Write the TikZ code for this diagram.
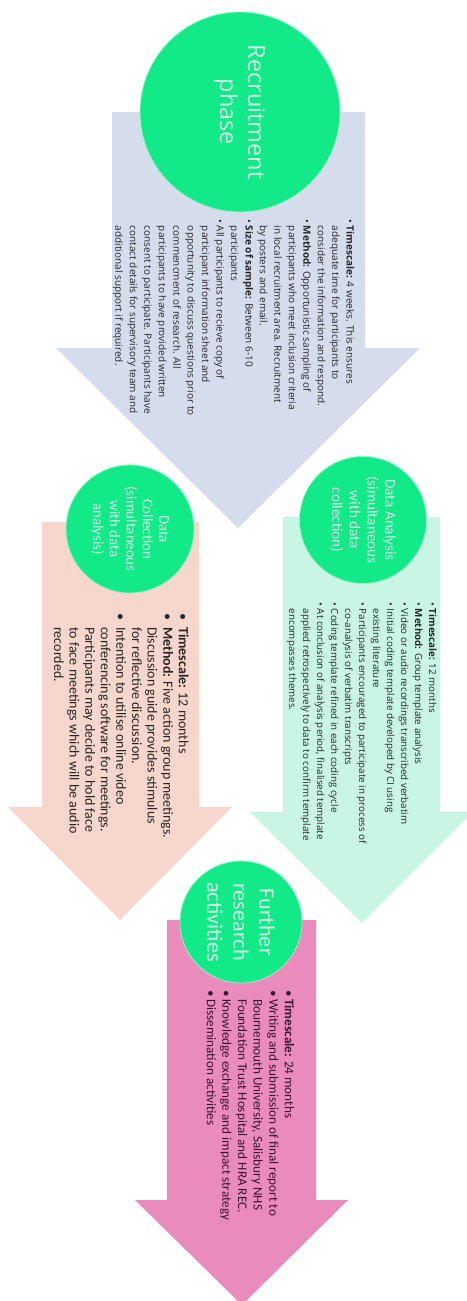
\documentclass[tikz,border=0pt]{standalone}
\usepackage{fontspec}
\setmainfont{Open Sans}
\newfontfamily\opens{Open Sans}
\newfontfamily\calib{Carlito}
\definecolor{recruitfill}{HTML}{D5DDEC}
\definecolor{collectfill}{HTML}{F7D6CC}
\definecolor{analysisfill}{HTML}{C9F6E4}
\definecolor{furtherfill}{HTML}{E98BBB}
\definecolor{phasegreen}{HTML}{12EA8A}
\definecolor{phaseedge}{HTML}{9AF2C6}
\definecolor{phasetext}{HTML}{D2F8E4}
\definecolor{bodytext}{HTML}{262626}
\definecolor{furthertext}{HTML}{3A1430}
\tikzset{
  phase/.style={circle, fill=phasegreen, draw=phaseedge, line width=0.8pt,
    inner sep=0pt, rotate=-90, align=center, text=phasetext},
  bodyblock/.style={rotate=-90, anchor=north west, inner sep=0pt, text=bodytext},
}
\begin{document}
\begin{tikzpicture}[x=1pt,y=-1pt]
\useasboundingbox (0,0) rectangle (466,1301);
\fill[white] (0,0) rectangle (466,1301);

% block arrows
\fill[recruitfill] (112,112) -- (365,112) -- (365,348) -- (420,348) -- (238,528)
  -- (56,348) -- (112,348) -- cycle;
\fill[collectfill] (42,522) -- (199,522) -- (199,807) -- (232,807) -- (120,920)
  -- (8,807) -- (42,807) -- cycle;
\fill[analysisfill] (283,517) -- (440,517) -- (440,812) -- (473,812) -- (362,923)
  -- (250,812) -- (283,812) -- cycle;
\fill[furtherfill] (167,920) -- (316,920) -- (316,1200) -- (348,1200) -- (242,1305)
  -- (135,1200) -- (167,1200) -- cycle;

% phase circles
\node[phase, minimum size=200pt, font=\opens\fontsize{23.5}{28}\selectfont]
  (recruit) at (240,112) {Recruitment\\phase};
\node[phase, minimum size=128pt, font=\calib\fontsize{14.8}{16.5}\selectfont]
  (collect) at (130,529) {Data\\Collection\\(simultaneous\\with data\\analysis)};
\node[phase, minimum size=127pt, font=\calib\fontsize{15.2}{17.7}\selectfont]
  (analysis) at (363,520) {Data Analysis\\(simultaneous\\with data\\collection)};
\node[phase, minimum size=122pt, font=\calib\fontsize{22.2}{26}\selectfont]
  (further) at (241,922) {Further\\research\\activities};

% recruitment details
\node[bodyblock, font=\opens\fontsize{10}{14.45}\selectfont] (recruittext) at (357,219) {%
\begin{tabular}{@{}l@{\hspace{3pt}}l@{}}
\textbullet & \textbf{Timescale:} 4 weeks. This ensures\\
 & adequate time for participants to\\
 & consider the information and respond.\\
\textbullet & \textbf{Method:} Opportunistic sampling of\\
 & participants who meet inclusion criteria\\
 & in local recruitment area. Recruitment\\
 & by posters and email.\\
\textbullet & \textbf{Size of sample:} Between 6-10\\
 & participants\\
\textbullet & All participants to recieve copy of\\
 & participant information sheet and\\
 & opportunity to discuss questions prior to\\
 & commencment of research. All\\
 & participants to have provided written\\
 & consent to participate. Participants have\\
 & contact details for supervisory team and\\
 & additional support if required.
\end{tabular}};

% data collection details
\node[bodyblock, font=\calib\fontsize{14}{15.6}\selectfont] (collecttext) at (190,613) {%
\begin{tabular}{@{}l@{\hspace{7pt}}l@{}}
\textbullet & \textbf{Timescale:} 12 months\\
\textbullet & \textbf{Method:} Five action group meetings.\\
 & Discussion guide provides stimulus\\
 & for reflective discussion.\\
\textbullet & Intention to utilise online video\\
 & conferencing software for meetings.\\
 & Participants may decide to hold face\\
 & to face meetings which will be audio\\
 & recorded.
\end{tabular}};

% data analysis details
\node[bodyblock, font=\opens\fontsize{9.8}{14}\selectfont] (analysistext) at (439,602) {%
\begin{tabular}{@{}l@{\hspace{3pt}}l@{}}
\textbullet & \textbf{Timescale:} 12 months\\
\textbullet & \textbf{Method:} Group template analysis\\
\textbullet & Video or audio recordings transcribed verbatim\\
\textbullet & Initial coding template developed by CI using\\
 & existing literature\\
\textbullet & Participants encouraged to participate in process of\\
 & co-analysis of verbatim transcripts\\
\textbullet & Coding template refined in each coding cycle\\
\textbullet & At conclusion of analysis period, finalised template\\
 & applied retrospectively to data to confirm template\\
 & encompasses themes.
\end{tabular}};

% further research details
\node[bodyblock, text=furthertext, font=\calib\fontsize{13.2}{15.6}\selectfont] (furthertext) at (296,990) {%
\begin{tabular}{@{}l@{\hspace{2.4pt}}l@{}}
\textbullet & \textbf{Timescale:} 24 months\\
\textbullet & Writing and submission of final report to\\
 & Bournemouth University, Salisbury NHS\\
 & Foundation Trust Hospital and HRA REC.\\
\textbullet & Knowledge exchange and impact strategy\\
\textbullet & Dissemination activities
\end{tabular}};
\end{tikzpicture}
\end{document}
